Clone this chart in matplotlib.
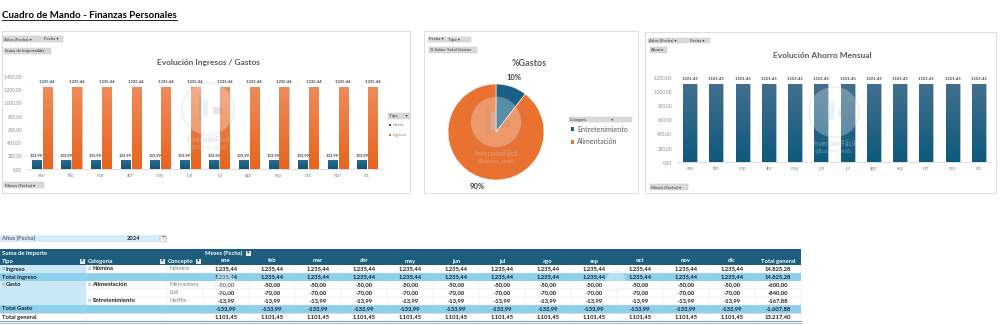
"""
Cuadro de mando de finanzas personales
Two bar charts, a pie chart and the pivot table with monthly income and expenses.
"""

import numpy as np
import matplotlib.pyplot as plt
from matplotlib.patches import Rectangle, Circle
from matplotlib.colors import LinearSegmentedColormap

plt.rcParams['font.family'] = ['Lato', 'DejaVu Sans']

W, H = 1005, 326

meses = ['ene', 'feb', 'mar', 'abr', 'may', 'jun', 'jul', 'ago', 'sep', 'oct', 'nov', 'dic']
ingreso = [1235.44, 1235.44, 1235.44, 1235.44, 1235.44, 1235.44,
           1235.44, 1235.44, 1235.44, 1235.44, 1235.44, 1235.44]
mercadona = [-50.00, -50.00, -50.00, -50.00, -50.00, -50.00,
             -50.00, -50.00, -50.00, -50.00, -50.00, -50.00]
lidl = [-70.00, -70.00, -70.00, -70.00, -70.00, -70.00,
        -70.00, -70.00, -70.00, -70.00, -70.00, -70.00]
netflix = [-13.99, -13.99, -13.99, -13.99, -13.99, -13.99,
           -13.99, -13.99, -13.99, -13.99, -13.99, -13.99]
ticks_ingresos = [0, 200, 400, 600, 800, 1000, 1200, 1400]
ticks_ahorro = [0, 200, 400, 600, 800, 1000, 1200]
categorias = ['Entretenimiento', 'Alimentación']
anio = '2024'

total_gasto = np.array(mercadona) + np.array(lidl) + np.array(netflix)
gasto_abs = -total_gasto
ahorro = np.array(ingreso) + total_gasto
pct_gastos = [-sum(netflix), -(sum(mercadona) + sum(lidl))]

AZUL = '#1a6085'
NARANJA = '#ea6e2a'
CABECERA = '#1d5d7e'
CELESTE = '#8dd0ee'
CELESTE_CLARO = '#cbe8f6'
GRIS_TEXTO = '#595959'


def fmtES(v):
    """Number with Spanish separators: 1.235,44"""
    s = f"{v:,.2f}"
    return s.replace(',', 'X').replace('.', ',').replace('X', '.')


def pxRect(x0, y0, x1, y1):
    """Figure fraction rectangle from pixel box (origin top-left)."""
    return [x0 / W, 1 - y1 / H, (x1 - x0) / W, (y1 - y0) / H]


def button(ax, x0, y0, x1, y1, text, fs=3.2):
    ax.add_patch(Rectangle((x0, y0), x1 - x0, y1 - y0, fc='#d9d9d9', ec='#c4c4c4', lw=0.3))
    ax.text(x0 + 1.2, (y0 + y1) / 2, text, fontsize=fs, color='#333333', va='center', ha='left')


def gradientBars(ax, bars, top, bottom):
    """Paints each bar with a vertical gradient clipped to the bar."""
    cmap = LinearSegmentedColormap.from_list('g', [bottom, top])
    grad = np.linspace(0, 1, 64).reshape(-1, 1)
    for b in bars:
        x0, w, h = b.get_x(), b.get_width(), b.get_height()
        im = ax.imshow(grad, extent=[x0, x0 + w, 0, h], origin='lower', cmap=cmap,
                       aspect='auto', zorder=3)
        im.set_clip_path(b)


def styleAxis(ax, ymax, ticks):
    ax.set_xlim(-0.5, len(meses) - 0.5)
    ax.set_ylim(0, ymax)
    ax.set_yticks(ticks)
    ax.set_yticklabels([fmtES(t) for t in ticks])
    ax.set_xticks(np.arange(len(meses)))
    ax.set_xticklabels(meses)
    for s in ['left', 'top', 'right']:
        ax.spines[s].set_visible(False)
    ax.spines['bottom'].set_color('#d9d9d9')
    ax.spines['bottom'].set_linewidth(0.6)
    ax.tick_params(length=0, labelsize=3.3, colors='#8c8c8c')
    ax.tick_params(axis='y', pad=3.6)
    ax.tick_params(axis='x', pad=2.6)
    ax.patch.set_visible(False)


def watermark(ax, cx, cy, r, ty):
    ax.add_patch(Circle((cx, cy), r, fc='white', ec='#b0b0b0', lw=0.8, alpha=0.28, zorder=5))
    ax.add_patch(Rectangle((cx - 10, cy - 14), 4, 26, fc='#9a9a9a', alpha=0.22, zorder=5))
    ax.add_patch(Rectangle((cx - 5, cy - 10), 5, 18, fc='#a8d8f0', alpha=0.28, zorder=5))
    ax.add_patch(Rectangle((cx + 5, cy - 2), 9, 7, fc='#8a8a8a', alpha=0.22, zorder=5))
    ax.text(cx, ty, 'InversiónFácil', fontsize=5, fontweight='bold', color='#c0c0c0',
            alpha=0.5, ha='center', va='center', zorder=5)
    ax.text(cx, ty + 8, '@Business_yields', fontsize=3.5, color='#c8c8c8',
            alpha=0.5, ha='center', va='center', zorder=5)


fig = plt.figure(figsize=(W / 100, H / 100), dpi=100)
fig.patch.set_facecolor('white')

# background layer in pixel coordinates
bg = fig.add_axes([0, 0, 1, 1], zorder=0)
bg.set_xlim(0, W)
bg.set_ylim(H, 0)
bg.axis('off')

fg = fig.add_axes([0, 0, 1, 1], zorder=10)
fg.set_xlim(0, W)
fg.set_ylim(H, 0)
fg.axis('off')
fg.patch.set_visible(False)

for x0, y0, x1, y1 in [(2, 31, 410, 193), (424, 31, 638, 193), (645, 32, 996, 193)]:
    bg.add_patch(Rectangle((x0, y0), x1 - x0, y1 - y0, fc='white', ec='#dedede', lw=0.8))

title = fg.text(2, 15, 'Cuadro de Mando - Finanzas Personales', fontsize=7,
                fontweight='bold', color='black', va='center', ha='left')

# --- Evolución Ingresos / Gastos ---
ax1 = fig.add_axes(pxRect(27, 76, 382, 169), zorder=2)
x = np.arange(len(meses))
b_g = ax1.bar(x - 0.18, gasto_abs, 0.31, color=AZUL, edgecolor='#d0d0d0', lw=0.4, zorder=2)
b_i = ax1.bar(x + 0.19, ingreso, 0.31, color=NARANJA, edgecolor='#d0d0d0', lw=0.4, zorder=2)
gradientBars(ax1, b_g, '#2f6b8d', '#0f5577')
gradientBars(ax1, b_i, '#ee8c5a', '#e8641e')
for xi, g, v in zip(x, gasto_abs, ingreso):
    ax1.text(xi - 0.18, g + 45, fmtES(g), ha='center', va='bottom', fontsize=3,
             fontweight='bold', color='#404040', zorder=4)
    ax1.text(xi + 0.19, v + 45, fmtES(v), ha='center', va='bottom', fontsize=3,
             fontweight='bold', color='#404040', zorder=4)
styleAxis(ax1, 1400, ticks_ingresos)

bg.text(208, 63, 'Evolución Ingresos / Gastos', fontsize=6, fontweight='bold',
        color=GRIS_TEXTO, ha='center', va='center')
button(bg, 3, 36, 42, 42, 'Años (Fecha) ▾')
button(bg, 43, 36, 63, 42, 'Fecha ▾')
button(bg, 4, 48, 51, 54, 'Suma de ImporteAbs')
button(bg, 4, 182, 44, 188, 'Meses (Fecha) ▾')
button(bg, 388, 113, 410, 119, 'Tipo       ▾')
for yy, lab, col in [(125, 'Gasto', AZUL), (135, 'Ingreso', NARANJA)]:
    bg.add_patch(Rectangle((389, yy - 1.2), 2.4, 2.4, fc=col, ec='none'))
    bg.text(392.5, yy, lab, fontsize=3.2, color='#7f7f7f', va='center', ha='left',
            clip_on=True)

# --- %Gastos ---
ax2 = fig.add_axes(pxRect(448, 84, 544, 180), zorder=2)
ax2.pie(pct_gastos, colors=[AZUL, '#ea7231'], startangle=90, counterclock=False,
        autopct=lambda p: f'{p:.0f}%', pctdistance=1.2,
        wedgeprops=dict(edgecolor='white', linewidth=0.4),
        textprops=dict(fontsize=5.5, fontweight='bold', color='#404040'))
ax2.set_xlim(-1, 1)
ax2.set_ylim(-1, 1)

bg.text(529, 64, '%Gastos', fontsize=6.5, fontweight='bold', color=GRIS_TEXTO,
        ha='center', va='center')
button(bg, 428, 37, 446, 42, 'Fecha ▾')
button(bg, 447, 37, 471, 42, 'Tipo ▾')
button(bg, 429, 47, 477, 53, '% Sobre Total Gastos')
button(bg, 569, 117, 632, 122, 'Categoría                         ▾', fs=2.8)
for yy, lab, col in [(129, categorias[0], AZUL), (142, categorias[1], '#ea7231')]:
    bg.add_patch(Rectangle((571, yy - 1.7), 3.4, 3.4, fc=col, ec='none'))
    bg.text(577, yy, lab, fontsize=5, color='#595959', va='center', ha='left')

# --- Evolución Ahorro Mensual ---
ax3 = fig.add_axes(pxRect(677, 77, 992, 162), zorder=2)
b_a = ax3.bar(x, ahorro, 0.53, color=AZUL, edgecolor='#d0d0d0', lw=0.4, zorder=2)
gradientBars(ax3, b_a, '#436f8e', '#0d5a7d')
for xi, v in zip(x, ahorro):
    ax3.text(xi, v + 50, fmtES(v), ha='center', va='bottom', fontsize=3,
             fontweight='bold', color='#404040', zorder=4, clip_on=False)
styleAxis(ax3, 1200, ticks_ahorro)

bg.text(822, 55, 'Evolución Ahorro Mensual', fontsize=6, fontweight='bold',
        color=GRIS_TEXTO, ha='center', va='center')
button(bg, 648, 38, 688, 43, 'Años (Fecha) ▾')
button(bg, 689, 38, 710, 43, 'Fecha ▾')
button(bg, 650, 47, 667, 53, 'Ahorro')
button(bg, 650, 184, 688, 190, 'Meses (Fecha) ▾')

# --- pivot table ---
FS = 4.2
col_x = [0, 86, 167, 203]
month_left = [203 + 46 * i for i in range(len(meses))]
total_left = 203 + 46 * len(meses)
right = total_left + 46

bg.add_patch(Rectangle((0, 235), 167, 7, fc='#d4ecf7', ec='none'))
bg.text(2, 238.5, 'Años (Fecha)', fontsize=FS, color='#404040', va='center')
bg.text(127, 238.5, anio, fontsize=FS, fontweight='bold', color='#262626', va='center')
bg.add_patch(Rectangle((160, 235.5), 6, 6, fc='#f2f2f2', ec='#a6a6a6', lw=0.3))
bg.text(163, 238.6, '⊤', fontsize=3, color='#404040', ha='center', va='center')

bg.add_patch(Rectangle((0, 249), right, 16, fc=CABECERA, ec='none'))
bg.text(2, 253, 'Suma de Importe', fontsize=FS, fontweight='bold', color='white', va='center')
bg.text(205, 253, 'Meses (Fecha)', fontsize=FS, fontweight='bold', color='white', va='center')
bg.add_patch(Rectangle((246, 250.5), 5, 5, fc='#e8e8e8', ec='none'))
bg.text(248.5, 253, '▾', fontsize=3.5, color='#333333', ha='center', va='center')
for lx, lab, icon in [(2, 'Tipo', 80), (88, 'Categoría', 160), (168, 'Concepto', 196)]:
    bg.text(lx, 261, lab, fontsize=FS, fontweight='bold', color='white', va='center')
    bg.add_patch(Rectangle((icon, 258.5), 5, 5, fc='#e8e8e8', ec='none'))
    bg.text(icon + 2.5, 261, '▾', fontsize=3.5, color='#333333', ha='center', va='center')
for i, m in enumerate(meses):
    bg.text(month_left[i] + 23, 261, m, fontsize=FS, fontweight='bold', color='white',
            ha='center', va='center')
bg.text(total_left + 23, 261, 'Total general', fontsize=FS, fontweight='bold', color='white',
        ha='center', va='center')

filas = [
    ('Ingreso', 'Nómina', 'Nómina', np.array(ingreso), 'dato'),
    ('Total Ingreso', '', '', np.array(ingreso), 'total'),
    ('Gasto', 'Alimentación', 'Mercadona', np.array(mercadona), 'dato'),
    ('', '', 'Lidl', np.array(lidl), 'dato'),
    ('', 'Entretenimiento', 'Netflix', np.array(netflix), 'dato'),
    ('Total Gasto', '', '', total_gasto, 'total'),
    ('Total general', '', '', ahorro, 'general'),
]
y = 265
rh = 8
for tipo, cat, concepto, valores, kind in filas:
    yc = y + rh / 2
    if kind == 'total':
        bg.add_patch(Rectangle((0, y), right, rh, fc=CELESTE, ec='none'))
        bg.text(2, yc, tipo, fontsize=FS, fontweight='bold', color='#1f1f1f', va='center')
    elif kind == 'general':
        bg.text(2, yc, tipo, fontsize=FS, fontweight='bold', color='#1f1f1f', va='center')
        bg.plot([0, right], [y, y], color='#bfbfbf', lw=0.4)
        bg.plot([0, right], [y + rh, y + rh], color='#7f9fb5', lw=0.8)
        bg.plot([0, right], [y + rh + 1.5, y + rh + 1.5], color='#7f9fb5', lw=0.5)
    else:
        bg.add_patch(Rectangle((0, y), 86, rh, fc=CELESTE_CLARO, ec='none'))
        if tipo:
            bg.text(1.5, yc, '⊟', fontsize=3, color='#a0a0a0', va='center')
            bg.text(6, yc, tipo, fontsize=FS, fontweight='bold', color='#1f1f1f', va='center')
        if cat:
            bg.text(88, yc, '⊟', fontsize=3, color='#a0a0a0', va='center')
            bg.text(92.5, yc, cat, fontsize=FS, fontweight='bold', color='#1f1f1f', va='center')
        bg.text(169, yc, concepto, fontsize=FS, color='#7f7f7f', va='center')
        bg.plot([86, right], [y + rh, y + rh], color='#e3e3e3', lw=0.3)
    if kind != 'total':
        for cx in col_x[1:] + month_left[1:] + [total_left, right]:
            bg.plot([cx, cx], [y, y + rh], color='#e3e3e3', lw=0.3)
    for i, v in enumerate(valores):
        bg.text(month_left[i] + 23, yc, fmtES(v), fontsize=FS, fontweight='bold',
                color='#1f1f1f', ha='center', va='center')
    bg.text(total_left + 23, yc, fmtES(valores.sum()), fontsize=FS, fontweight='bold',
            color='#1f1f1f', ha='center', va='center')
    y += rh

# watermarks
watermark(fg, 208, 109, 26, 140)
watermark(fg, 496, 122, 25, 153)
watermark(fg, 834, 112, 25, 143)
fg.add_patch(Circle((225, 283), 10, fc='white', ec='#c0c0c0', lw=0.5, alpha=0.35))
fg.add_patch(Circle((616, 281), 10, fc='white', ec='#c0c0c0', lw=0.5, alpha=0.35))

# underline the main title
fig.canvas.draw()
bb = title.get_window_extent().transformed(fg.transData.inverted())
fg.plot([bb.x0, bb.x1], [max(bb.y0, bb.y1) + 0.5] * 2, color='black', lw=0.6)

fig.savefig('out.png', dpi=100)
